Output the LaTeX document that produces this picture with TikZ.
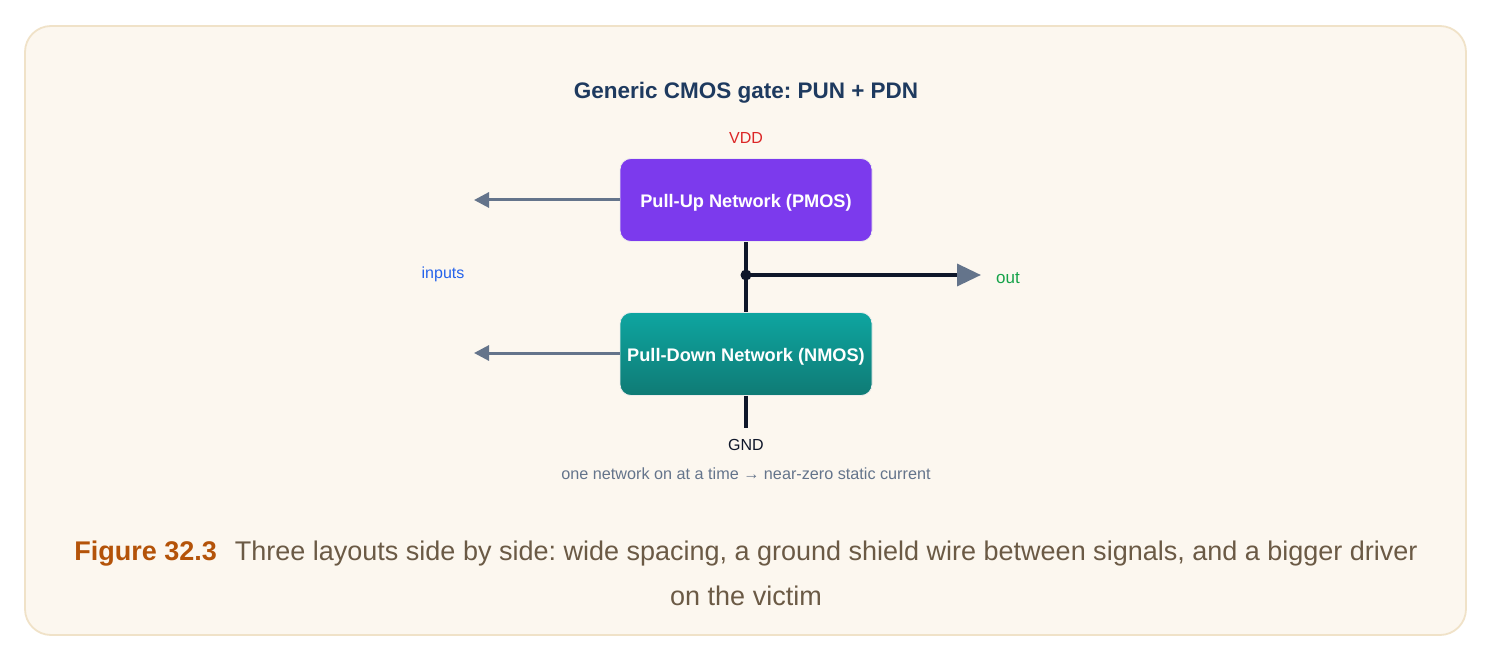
\documentclass[tikz,border=0pt]{standalone}
\usepackage{fontspec}
\setmainfont{Liberation Sans}
\usetikzlibrary{arrows.meta}
\frenchspacing
\definecolor{bgfill}{HTML}{FCF7EF}
\definecolor{bgline}{HTML}{F0E2C8}
\definecolor{titlec}{HTML}{1E3A5F}
\definecolor{pun}{HTML}{7C3AED}
\definecolor{pdntop}{HTML}{0EA5A0}
\definecolor{pdnbot}{HTML}{0F7B75}
\definecolor{slate}{HTML}{64748B}
\definecolor{wire}{HTML}{0F172A}
\definecolor{vddc}{HTML}{DC2626}
\definecolor{outc}{HTML}{16A34A}
\definecolor{inc}{HTML}{2563EB}
\definecolor{capc}{HTML}{6B5A45}
\definecolor{figc}{HTML}{B45309}
\tikzset{
  netbox/.style={rounded corners=11pt, minimum width=252pt, minimum height=83pt,
    draw=white!85!gray, line width=0.8pt, inner sep=0pt},
  boxtext/.style={inner sep=0pt, text=white, font=\fontsize{18.2}{20}\selectfont\bfseries},
  inarrow/.style={draw=slate, line width=3pt, -{Triangle[length=15pt,width=15pt]}},
  wireln/.style={draw=wire, line width=3.5pt},
  lbl/.style={inner sep=0pt, font=\fontsize{16}{18}\selectfont},
  captext/.style={inner sep=0pt, text=capc, font=\fontsize{27}{30}\selectfont}
}
\begin{document}
\begin{tikzpicture}[x=1pt,y=-1pt]
\useasboundingbox (0,0) rectangle (1494,663);
\draw[fill=bgfill, draw=bgline, line width=1.8pt, rounded corners=26pt] (25,26) rectangle (1466,635);

\node[inner sep=0pt, text=titlec, font=\fontsize{22.5}{24}\selectfont\bfseries] (title) at (746,93) {Generic CMOS gate: PUN + PDN};
\node[lbl, text=vddc] (vdd) at (746,138) {VDD};

\node[netbox, fill=pun] (pun) at (746,200) {};
\node[netbox, top color=pdntop, bottom color=pdnbot] (pdn) at (746,354) {};
\node[boxtext] (punt) at (746,203) {Pull-Up Network (PMOS)};
\node[boxtext] (pdnt) at (746,357) {Pull-Down Network (NMOS)};

\coordinate (in1) at (474,200);
\coordinate (in2) at (474,353);
\draw[inarrow] (pun.west |- in1) -- (in1);
\draw[inarrow] (pdn.west |- in2) -- (in2);
\node[lbl, text=inc] (inputs) at (443,274) {inputs};

\coordinate (j) at (746,275);
\coordinate (outend) at (981,275);
\draw[wireln] (pun.south) -- (pdn.north);
\draw[wireln, -{Triangle[length=24pt,width=22pt,color=slate]}] (j) -- (outend);
\fill[wire] (j) circle (5.5pt);
\node[lbl, text=outc, anchor=west, font=\fontsize{17}{18}\selectfont] (out) at (996,278) {out};

\coordinate (gndend) at (746,428);
\draw[wireln] (pdn.south) -- (gndend);
\node[lbl, text=wire] (gnd) at (746,445) {GND};

\node[lbl, text=slate, font=\fontsize{16.2}{18}\selectfont] (note) at (746,474) {one network on at a time → near-zero static current};

\node[captext] (cap1) at (746,554) {\textcolor{figc}{\bfseries Figure 32.3}\hspace{18pt}Three layouts side by side: wide spacing, a ground shield wire between signals, and a bigger driver};
\node[captext] (cap2) at (746,596) {on the victim};
\end{tikzpicture}
\end{document}
